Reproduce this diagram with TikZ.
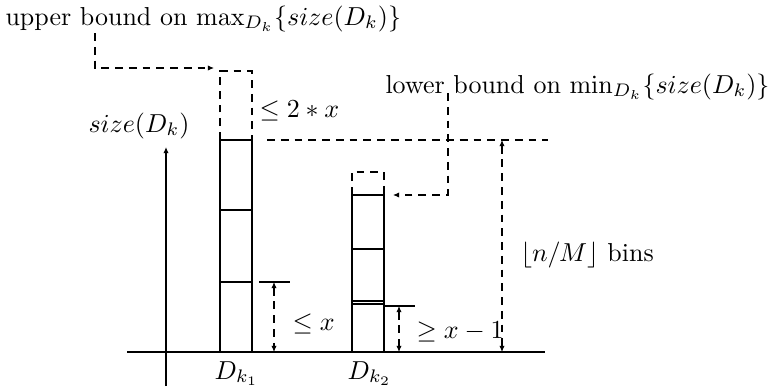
\documentclass[tikz,border=0pt]{standalone}
\usetikzlibrary{arrows.meta}
\begin{document}
\begin{tikzpicture}[x=0.385pt,y=-0.385pt,
  tip/.style={-{Latex[length=2.4pt,width=2.1pt]}},
  dtip/.style={{Latex[length=2.4pt,width=2.1pt]}-{Latex[length=2.4pt,width=2.1pt]}},
  dsh/.style={line width=0.4pt,dash pattern=on 3pt off 2.3pt},
  colbox/.style={line width=0.5pt},
  divline/.style={line width=0.8pt},
  lbl/.style={inner sep=0pt,anchor=base west}]
\useasboundingbox (0,0) rectangle (768,388);
% baseline and axis
\coordinate (bl) at (127,352);
\coordinate (br) at (545,352);
\draw[line width=0.5pt] (bl) -- (br);
\coordinate (ax0) at (166,386);
\coordinate (ax1) at (166,147);
\draw[line width=0.5pt,tip] (ax0) -- (ax1);
% column 1
\coordinate (c1a) at (220,352);
\coordinate (c1b) at (252,140);
\draw[colbox] (c1a) rectangle (c1b);
\draw[divline] (220,210) -- (252,210);
\draw[divline] (220,282) -- (252,282);
\coordinate (c1tl) at (220,71);
\coordinate (c1tr) at (252,71);
\draw[dsh] (220,140) -- (c1tl) -- (c1tr) -- (252,140);
% column 2
\coordinate (c2a) at (352,352);
\coordinate (c2b) at (384,195);
\draw[colbox] (c2a) rectangle (c2b);
\draw[divline] (352,249) -- (384,249);
\draw[line width=0.5pt] (352,301) -- (384,301);
\draw[line width=0.5pt] (352,304) -- (384,304);
\coordinate (c2tl) at (352,172);
\coordinate (c2tr) at (384,172);
\draw[dsh] (352,195) -- (c2tl) -- (c2tr) -- (384,195);
% <= x dimension
\coordinate (r1a) at (259,282);
\coordinate (r1b) at (290,282);
\draw[line width=0.5pt] (r1a) -- (r1b);
\coordinate (d1t) at (274,282);
\coordinate (d1b) at (274,352);
\draw[dsh,dtip] (d1t) -- (d1b);
\node[lbl] (lex) at (292,330) {$\leq x$};
% >= x-1 dimension
\coordinate (r2a) at (384,306);
\coordinate (r2b) at (415,306);
\draw[line width=0.5pt] (r2a) -- (r2b);
\coordinate (d2t) at (399,306);
\coordinate (d2b) at (399,352);
\draw[dsh,dtip] (d2t) -- (d2b);
\node[lbl] (gex) at (416,338) {$\geq x-1$};
% n/M bins
\coordinate (h1) at (267,140);
\coordinate (h2) at (548,140);
\draw[dsh] (h1) -- (h2);
\coordinate (d3t) at (502,140);
\coordinate (d3b) at (502,352);
\draw[dsh,dtip] (d3t) -- (d3b);
\node[lbl] (bins) at (520,261) {$\lfloor n/M\rfloor$ bins};
% labels
\node[lbl] (size) at (88,132) {$size(D_k)$};
\node[lbl] (le2x) at (259,117) {$\leq 2*x$};
\node[lbl] (dk1) at (214,379) {$D_{k_1}$};
\node[lbl] (dk2) at (347,379) {$D_{k_2}$};
% upper bound
\node[lbl] (ub) at (5,25) {upper bound on $\max_{D_k}\{size(D_k)\}$};
\coordinate (u0) at (95,33);
\coordinate (u1) at (95,68);
\coordinate (u2) at (214,68);
\draw[dsh,tip] (u0) -- (u1) -- (u2);
% lower bound
\node[lbl] (lb) at (385,93) {lower bound on $\min_{D_k}\{size(D_k)\}$};
\coordinate (l0) at (448,93);
\coordinate (l1) at (448,195);
\coordinate (l2) at (393,195);
\draw[dsh,tip] (l0) -- (l1) -- (l2);
\end{tikzpicture}
\end{document}
